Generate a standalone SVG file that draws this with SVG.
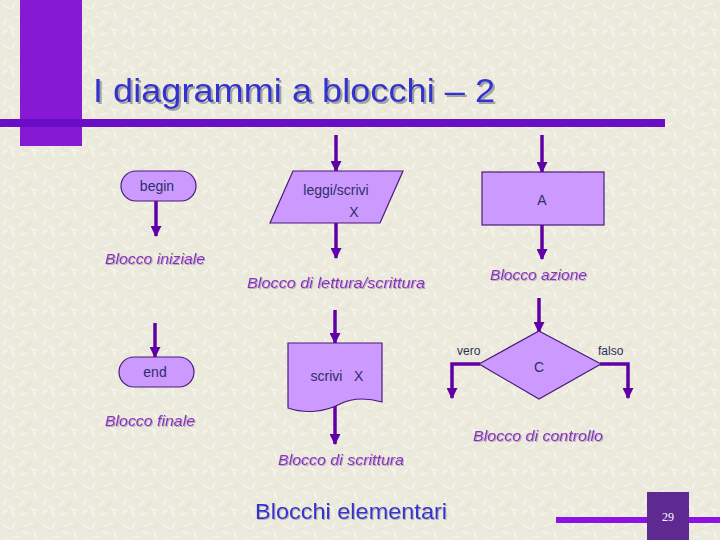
<svg xmlns="http://www.w3.org/2000/svg" width="720" height="540" viewBox="0 0 720 540">
<defs>
<pattern id="tex" width="40" height="40" patternUnits="userSpaceOnUse">
<rect width="40" height="40" fill="#EBEADD"/>
<g stroke="#F8F8F1" stroke-width="1.2" stroke-linecap="round">
<path d="M3,5 l6,4 M15,2 l-3,7 M25,6 l7,-3 M34,12 l3,7 M6,18 l-2,7 M14,16 l7,2 M24,20 l-4,6 M30,28 l7,3 M2,33 l6,-3 M12,30 l2,7 M20,35 l7,-2 M36,36 l-3,-6 M28,14 l-5,-3 M9,26 l5,3"/>
</g>
<g stroke="#DCDAC9" stroke-width="0.8" stroke-linecap="round">
<path d="M8,10 l4,3 M19,10 l5,-2 M31,22 l-3,5 M5,38 l4,-4 M22,28 l5,4 M38,4 l-4,3"/>
</g>
</pattern>
<filter id="sh" x="-5%" y="-20%" width="115%" height="160%">
<feDropShadow dx="2" dy="2" stdDeviation="0.4" flood-color="#9A9A9A" flood-opacity="0.9"/>
</filter>
<filter id="sh2" x="-5%" y="-20%" width="115%" height="160%">
<feDropShadow dx="1" dy="1" stdDeviation="0.2" flood-color="#B0A8B8" flood-opacity="0.9"/>
</filter>
<marker id="ah" viewBox="0 0 10 10" refX="9" refY="5" markerWidth="11" markerHeight="11" markerUnits="userSpaceOnUse" orient="auto">
<path d="M0,0 L10,5 L0,10 z" fill="#6200A8"/>
</marker>
</defs>
<style>
.blk{fill:#CC99FF;stroke:#4B1A7A;stroke-width:1.2}
.t{font-family:"Liberation Sans",Arial,sans-serif;font-size:14px;fill:#2E2E66;text-anchor:middle}
.lab{font-family:"Liberation Sans",Arial,sans-serif;font-size:15px;font-style:italic;fill:#8E2FC0;filter:url(#sh2)}
.small{font-family:"Liberation Sans",Arial,sans-serif;font-size:12px;fill:#2E2E55}
.con{fill:none;stroke:#6200A8;stroke-width:3.5}
.ar{marker-end:url(#ah)}
</style>
<rect width="720" height="540" fill="url(#tex)"/>

<g id="decor">
<rect x="20" y="0" width="62" height="146" fill="#8519D4"/>
<rect x="0" y="119" width="665" height="8" fill="#6B0DC6"/>
<rect x="556" y="517" width="164" height="6" fill="#8A12E4"/>
<rect x="647" y="492" width="42" height="48" fill="#5E2A92"/>
<text x="668" y="521" font-family="Liberation Serif,serif" font-size="12" fill="#FFFFFF" text-anchor="middle">29</text>
</g>

<g id="title">
<text x="93" y="102" font-family="Liberation Sans,Arial,sans-serif" font-size="34" fill="#3333CC" filter="url(#sh)" textLength="402" lengthAdjust="spacingAndGlyphs">I diagrammi a blocchi – 2</text>
</g>

<g id="connectors">
<line class="con ar" x1="156" y1="201" x2="156" y2="236"/>
<line class="con ar" x1="336" y1="135" x2="336" y2="171"/>
<line class="con ar" x1="336" y1="223" x2="336" y2="258"/>
<line class="con ar" x1="542" y1="135" x2="542" y2="172"/>
<line class="con ar" x1="542" y1="225" x2="542" y2="259"/>
<line class="con ar" x1="155" y1="323" x2="155" y2="357"/>
<line class="con ar" x1="335" y1="310" x2="335" y2="343"/>
<line class="con ar" x1="335" y1="405" x2="335" y2="444"/>
<line class="con ar" x1="539" y1="298" x2="539" y2="332"/>
<polyline class="con ar" points="480,364 452,364 452,398"/>
<polyline class="con ar" points="600,364 628,364 628,398"/>
</g>

<g id="begin">
<rect class="blk" x="121" y="171" width="75" height="30" rx="15" ry="15"/>
<text class="t" x="157" y="191">begin</text>
</g>
<g id="label-iniziale"><text class="lab" x="105" y="264" textLength="100" lengthAdjust="spacingAndGlyphs">Blocco iniziale</text></g>

<g id="leggi">
<polygon class="blk" points="293,171 403,171 380,223 270,223"/>
<text class="t" x="336" y="195">leggi/scrivi</text>
<text class="t" x="354" y="217">X</text>
</g>
<g id="label-lettura"><text class="lab" x="247" y="288" textLength="178" lengthAdjust="spacingAndGlyphs">Blocco di lettura/scrittura</text></g>

<g id="azione">
<rect class="blk" x="482" y="172" width="122" height="53"/>
<text class="t" x="542" y="205">A</text>
</g>
<g id="label-azione"><text class="lab" x="490" y="280" textLength="97" lengthAdjust="spacingAndGlyphs">Blocco azione</text></g>

<g id="end">
<rect class="blk" x="119" y="357" width="75" height="30" rx="15" ry="15"/>
<text class="t" x="155" y="377">end</text>
</g>
<g id="label-finale"><text class="lab" x="105" y="426" textLength="90" lengthAdjust="spacingAndGlyphs">Blocco finale</text></g>

<g id="scrivi">
<path class="blk" d="M288,343 H382 V402 C368,398 352,398 340,404 C325,412 305,414 288,408 Z"/>
<text class="t" x="337" y="381" xml:space="preserve">scrivi   X</text>
</g>
<g id="label-scrittura"><text class="lab" x="278" y="465" textLength="126" lengthAdjust="spacingAndGlyphs">Blocco di scrittura</text></g>

<g id="controllo">
<polygon class="blk" points="539,331 601,364 539,399 479,364"/>
<text class="t" x="539" y="372">C</text>
<text class="small" x="457" y="355">vero</text>
<text class="small" x="598" y="355">falso</text>
</g>
<g id="label-controllo"><text class="lab" x="473" y="441" textLength="130" lengthAdjust="spacingAndGlyphs">Blocco di controllo</text></g>

<g id="footer">
<text x="255" y="519" font-family="Liberation Sans,Arial,sans-serif" font-size="22" fill="#3333CC" filter="url(#sh2)" textLength="192" lengthAdjust="spacingAndGlyphs">Blocchi elementari</text>
</g>
</svg>
